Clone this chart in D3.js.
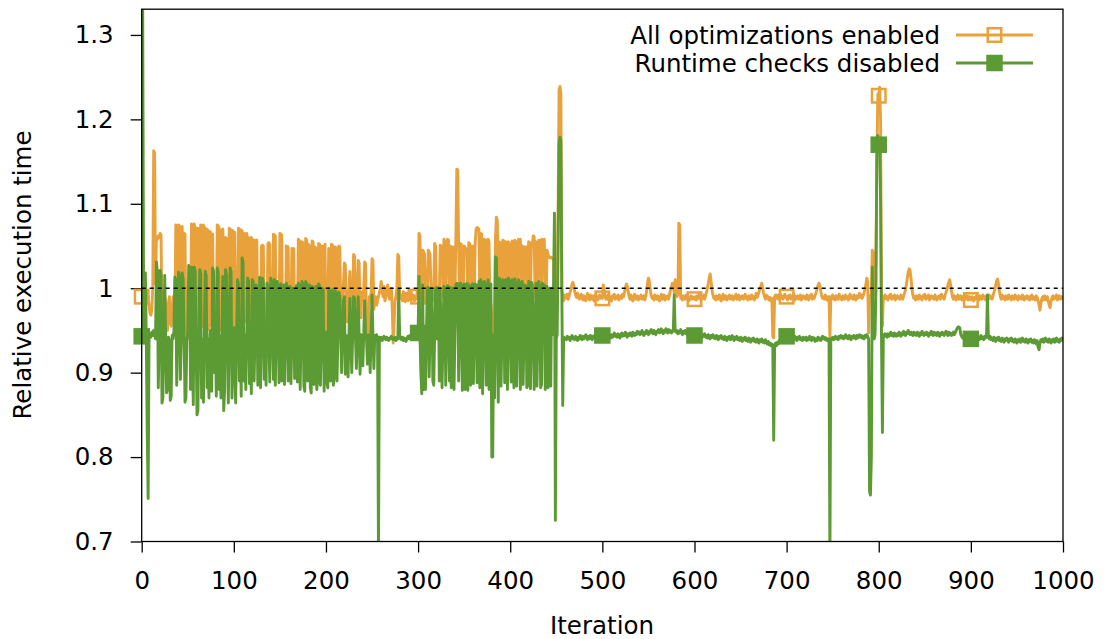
<!DOCTYPE html>
<html>
<head>
<meta charset="utf-8">
<script src="https://cdnjs.cloudflare.com/ajax/libs/d3/7.8.5/d3.min.js"></script>
<style>
   body { margin: 0; background: #fff; }
   svg { display: block; font-family: "DejaVu Sans", sans-serif; }
</style>
</head>
<body>
<script>
// relative execution time x 1000, one value per iteration

// all optimizations enabled, iterations 0-459
var optEarly = [
   990,1000,998,995,1000,997,993,990,980,970,
   968,975,1000,1163,1160,1005,1060,1058,1062,1060,
   1065,1063,955,950,960,990,985,955,950,980,
   990,960,955,975,990,985,970,1075,1072,960,
   1075,1074,955,1070,1073,950,1065,1064,950,945,
   940,945,955,960,1076,1074,955,1076,1072,1071,
   950,1071,1070,960,1075,1073,955,1075,1072,1071,
   960,1070,1068,950,1067,1066,955,1064,960,950,
   955,960,1075,1074,1072,950,955,1069,1070,950,
   960,1060,1059,950,955,1071,1070,1069,955,1068,
   955,1066,950,960,955,1071,1070,955,1069,1068,
   950,1065,1064,960,1065,950,1060,1059,955,1060,
   1058,950,955,1057,1056,1057,950,960,955,950,
   1050,1051,1050,955,960,950,955,1053,1054,1052,
   950,955,960,1064,1063,1062,950,955,960,950,
   1065,1064,1063,955,960,950,955,1050,1048,1049,
   950,955,960,1047,1046,1047,955,960,950,955,
   1058,1057,955,950,1055,1053,960,955,1059,1057,
   950,1052,1050,955,960,1056,1055,950,1049,1048,
   955,960,1053,1052,950,955,1050,1049,955,1052,
   950,950,960,1047,1046,955,1052,1051,950,955,
   1049,1048,960,955,1050,1049,980,970,990,1005,
   1030,1028,975,960,985,1000,1020,970,950,990,
   1040,1038,980,960,990,1033,1030,975,965,995,
   985,1000,1031,1029,950,932,935,990,985,995,
   1035,1033,975,985,990,980,985,990,995,1000,
   1008,995,990,1002,985,990,998,1004,992,987,
   995,1000,975,935,960,985,990,1000,1040,1038,
   995,988,992,985,996,990,984,994,989,985,
   998,990,986,993,988,992,985,990,987,996,
   990,1065,1062,990,985,1045,1043,1040,990,985,
   988,1045,1043,1040,1000,990,985,1000,1053,1050,
   986,985,987,990,1051,1050,1049,990,1058,1055,
   988,1052,1058,1057,990,1050,1049,985,1049,1047,
   990,1060,1141,1140,1050,990,1053,1052,988,985,
   1050,1048,1047,1046,990,1054,1053,986,990,1050,
   1049,985,1055,1070,1072,1071,1070,990,1065,1064,
   988,985,1058,1057,990,1056,1058,1055,985,980,
   941,945,960,990,1060,1084,1080,990,1055,1054,
   990,986,1057,1056,985,1055,1054,990,1055,1053,
   960,985,1056,1055,990,1057,1055,985,990,1058,
   1057,1058,990,1050,1049,985,1049,1048,1049,990,
   1055,1054,988,1053,1052,1062,1061,990,1055,1054,
   985,1057,1056,1057,990,1058,1057,1058,988,985,
   1045,1040,1037,1036,1037,1036,1035,1036,990,985,
   980,1000,1100,1235,1239,1230,1000,990,985,992
];

// all optimizations enabled, iterations 460-1000
var optLate = [
   990,988,993,987,991,995,999,1004,1007,1003,996,992,989,994,991,987,990,993,988,986,
   991,989,985,990,994,988,986,992,989,987,991,985,988,993,990,986,989,992,988,990,
   988,1004,997,990,987,989,992,986,990,988,985,991,989,993,987,990,988,992,986,989,
   991,988,993,990,995,1000,1005,1003,996,990,987,992,988,985,990,993,987,989,991,986,
   990,988,992,987,989,991,986,990,996,1006,1012,1008,999,991,988,990,986,992,989,987,
   991,988,985,990,993,987,989,992,986,990,988,991,987,993,998,1002,1006,1000,995,1010,
   995,990,992,1077,1075,988,990,986,991,989,987,992,988,990,985,989,991,987,990,988,
   987,990,986,991,988,993,989,986,990,988,992,987,991,995,1000,1006,1012,1017,1008,998,
   992,988,990,986,991,989,987,992,988,985,990,993,987,989,991,986,990,988,992,987,
   989,991,986,990,988,993,987,989,992,986,990,988,991,987,989,993,988,990,986,991,
   989,987,992,988,990,986,991,994,989,992,996,999,1002,1006,1000,994,990,987,992,988,
   990,986,989,985,988,943,941,990,992,988,992,987,990,994,988,991,987,990,993,989,
   990,986,991,988,992,987,990,989,993,986,990,988,991,987,990,992,986,989,991,988,
   990,987,992,988,986,991,989,993,987,990,988,992,995,999,1003,1006,1004,997,991,988,
   990,987,992,989,986,990,990,942,990,988,992,987,990,986,991,989,987,993,988,990,
   986,991,989,987,992,988,990,986,991,993,988,990,987,992,989,986,991,988,990,994,
   989,992,988,991,994,999,1004,1012,1008,947,990,992,990,1045,1042,995,992,1050,1150,1230,
   1228,1238,1200,1000,955,990,987,992,988,990,986,991,989,993,987,990,988,992,986,989,
   991,988,990,987,992,989,987,991,994,998,1004,1012,1019,1023,1021,1012,1000,992,988,990,
   986,991,989,987,992,988,990,986,991,989,993,987,990,988,992,986,989,991,988,990,
   987,992,989,986,990,988,991,987,993,989,990,987,992,995,999,1003,1007,1010,1004,996,
   990,987,991,988,986,990,992,987,989,991,986,990,988,992,987,989,991,986,990,988,
   986,990,988,985,989,987,991,988,990,986,991,989,987,992,988,990,986,991,989,987,
   992,988,990,987,991,995,999,1004,1009,1011,1005,996,990,987,992,988,990,986,991,989,
   987,992,988,990,986,991,989,987,992,988,990,986,991,988,990,987,992,989,986,990,
   988,991,987,990,986,989,992,987,990,988,986,991,989,985,980,974,982,988,990,986,
   991,988,986,990,985,980,977,984,989,991,987,990,988,992,986,989,991,987,990,988,
   990
];

// runtime checks disabled, iterations 0-459
var rtcEarly = [
   943,1360,1010,945,1018,940,830,751,944,946,
   942,948,944,950,945,940,1031,1020,882,940,
   1021,1015,864,870,945,1015,940,876,880,942,
   938,867,872,944,940,950,1013,1010,885,945,
   1019,1015,892,940,1018,1010,945,865,870,940,
   948,1027,1020,880,1025,940,862,1025,1020,945,
   850,855,940,1022,1018,870,940,865,945,1020,
   1015,882,940,870,946,950,878,1024,1020,900,
   940,872,1024,1018,880,944,870,940,1014,855,
   880,1022,1016,942,864,948,1024,1019,870,940,
   945,900,864,944,1010,1005,890,940,872,1036,
   1030,890,945,880,944,1012,1009,887,940,875,
   1010,1008,890,945,1004,1000,885,940,1013,882,
   945,1012,1008,892,940,885,1006,1004,945,889,
   1012,1009,940,892,1010,885,945,1008,1003,888,
   940,1005,890,945,1004,886,942,1006,1001,890,
   945,1002,887,940,1000,998,893,944,1003,889,
   1006,1004,880,945,1008,1005,884,878,1008,1006,
   890,940,1004,882,876,1002,1000,886,945,1002,
   880,890,1005,1003,885,940,1000,998,878,945,
   940,888,882,1000,996,890,940,998,885,895,
   997,995,890,945,995,990,945,900,946,985,
   990,898,944,940,895,946,988,942,900,945,
   990,988,943,905,947,990,944,898,945,942,
   908,946,985,944,940,910,945,943,900,946,
   992,945,905,944,942,945,940,680,942,940,
   942,938,940,943,941,939,942,940,938,941,
   940,943,941,939,940,942,938,941,940,998,
   944,940,939,942,938,941,940,937,941,943,
   940,944,941,945,942,946,943,948,945,947,
   947,1014,945,900,875,1004,880,945,880,943,
   1000,1001,895,945,1000,998,890,885,945,1000,
   940,1001,999,890,1000,945,882,940,1002,999,
   885,945,1003,1000,890,1001,882,945,1000,880,
   945,1004,1006,1005,890,945,1006,1004,879,883,
   1005,880,945,1006,879,1004,1003,885,945,1005,
   887,945,1005,1004,888,945,1008,882,1010,1006,
   875,945,1008,1005,885,945,1010,880,945,1005,
   800,800,945,870,1037,1036,945,865,1012,1010,
   884,945,1010,1008,888,1010,945,880,1012,1008,
   945,889,1010,945,882,1011,1005,884,945,1010,
   1006,880,945,1008,886,945,1004,1002,882,945,
   1008,885,881,1007,1004,945,880,945,1006,884,
   945,1008,1003,882,886,1006,945,1004,880,945,
   1002,882,945,1000,884,1000,945,1000,1089,725,
   940,945,1050,1170,1179,1175,1000,861,942,941
];

// runtime checks disabled, iterations 460-1000
var rtcLate = [
   941,939,943,940,942,938,941,944,940,942,939,943,941,938,942,940,944,941,939,943,
   940,942,945,941,939,943,940,944,942,939,943,941,945,942,940,944,941,943,946,942,
   944,941,945,943,940,944,942,946,943,941,945,942,944,947,943,945,942,946,944,941,
   945,947,943,946,944,948,945,942,946,944,947,945,943,948,946,944,947,945,949,946,
   948,945,947,950,946,944,948,946,950,947,945,949,947,951,948,946,950,947,945,949,
   948,951,947,949,952,948,946,950,948,952,949,947,951,948,950,947,949,949,992,950,
   948,950,946,949,947,951,948,945,949,947,950,946,948,944,947,945,949,946,943,947,
   944,946,943,947,945,942,946,944,941,945,943,946,942,944,941,945,943,940,944,942,
   945,941,943,940,944,942,939,943,941,944,940,942,939,943,941,938,942,940,943,939,
   941,944,940,938,942,940,943,939,941,938,942,940,937,941,939,942,938,940,937,941,
   939,936,940,938,941,937,939,936,940,938,935,939,937,940,936,938,935,939,936,934,
   937,933,935,932,934,931,820,933,935,932,936,934,938,936,940,938,942,940,943,941,
   943,940,944,941,939,943,940,942,939,943,941,938,942,940,943,939,941,938,942,940,
   939,942,938,941,939,943,940,938,942,939,941,937,940,938,942,939,941,938,940,943,
   940,942,939,941,938,940,940,680,940,940,942,939,941,943,940,942,939,943,941,944,
   941,943,940,942,945,941,943,940,944,942,939,943,941,944,942,940,944,941,943,945,
   942,944,941,943,940,944,942,945,943,940,760,755,800,1025,945,940,945,1000,1170,1181,
   1170,1175,1100,940,829,945,943,946,944,942,946,943,945,948,944,946,943,947,945,943,
   946,944,948,945,943,947,945,949,946,944,948,946,950,947,945,948,946,944,948,945,
   947,944,948,946,943,947,945,949,946,944,947,945,948,946,943,947,945,949,946,944,
   948,945,947,944,948,946,943,947,945,948,946,944,947,949,946,944,948,945,947,944,
   946,948,945,947,950,952,954,954,953,945,943,941,944,940,942,939,943,941,938,942,
   940,942,939,943,940,938,942,940,943,939,941,944,940,942,939,943,941,944,992,942,
   940,943,939,941,938,942,940,937,941,939,942,938,940,937,941,939,936,940,938,941,
   939,936,940,938,941,937,939,936,940,938,935,939,937,940,936,938,941,937,939,936,
   940,938,935,939,937,940,936,938,935,939,937,934,938,930,927,935,939,937,940,936,
   938,941,937,939,936,940,938,935,939,937,940,936,938,941,937,939,936,940,938,941,
   939
];

var seriesNames = ["All optimizations enabled", "Runtime checks disabled"];
var seriesColors = ["#e8a13b", "#5c9a34"];
var xTicks = [0, 100, 200, 300, 400, 500, 600, 700, 800, 900, 1000];
var yTicks = [0.7, 0.8, 0.9, 1, 1.1, 1.2, 1.3];
var markerEvery = 100;

function drawChart() {
   var width = 1109;
   var height = 639;
   var left = 141.7, right = 1063, top = 9.2, bottom = 541.5;
   var fontSize = 24.5;

   var svg = d3.select("body")
               .append("svg")
                  .attr("width", width)
                  .attr("height", height);

   var x = d3.scaleLinear()
            .domain([0, 1000])
            .range([left, right]);

   var y = d3.scaleLinear()
            .domain([0.7, 1.3305])
            .range([bottom, top]);

   function toPoints(values) {
      return values.map(function(v, i) { return { i: i, v: v / 1000 }; });
   }

   var series = [
      toPoints(optEarly.concat(optLate)),
      toPoints(rtcEarly.concat(rtcLate))
   ];

   svg.append("clipPath")
         .attr("id", "plotclip")
      .append("rect")
         .attr("x", left)
         .attr("y", top)
         .attr("width", right - left)
         .attr("height", bottom - top);

   //x axis, ticks pointing out
   var xAxis = svg.append("g")
      .attr("transform", "translate(0," + bottom + ")")
      .call(d3.axisBottom(x)
         .tickValues(xTicks)
         .tickSize(11)
         .tickSizeOuter(0)
         .tickPadding(19)
         .tickFormat(d3.format("d")));
   xAxis.select(".domain").remove();

   //y axis
   var yAxis = svg.append("g")
      .attr("transform", "translate(" + left + ",0)")
      .call(d3.axisLeft(y)
         .tickValues(yTicks)
         .tickSize(11)
         .tickSizeOuter(0)
         .tickPadding(17)
         .tickFormat(function(d) { return String(+d.toFixed(1)); }));
   yAxis.select(".domain").remove();

   svg.selectAll(".tick line")
      .attr("stroke", "#000")
      .attr("stroke-width", 1.3);
   svg.selectAll(".tick text")
      .attr("fill", "#000")
      .style("font-family", "DejaVu Sans")
      .style("font-size", fontSize + "px");

   var line = d3.line()
      .x(function(d) { return x(d.i); })
      .y(function(d) { return y(d.v); });

   var plot = svg.append("g");

   series.forEach(function(data, k) {
      plot.append("path")
         .datum(data)
         .attr("clip-path", "url(#plotclip)")
         .attr("fill", "none")
         .attr("stroke", seriesColors[k])
         .attr("stroke-width", 2.9)
         .attr("stroke-linejoin", "round")
         .attr("d", line);

      var marks = data.filter(function(d) { return d.i % markerEvery === 0 && d.i < 1000; });
      drawMarkers(plot, marks, k);
   });

   function drawMarkers(g, marks, k) {
      var filled = k === 1;
      var s = filled ? 15 : 13.5;
      g.selectAll(".mark" + k)
         .data(marks)
         .enter().append("rect")
            .attr("class", "mark" + k)
            .attr("x", function(d) { return x(d.i) - s / 2; })
            .attr("y", function(d) { return y(d.v) - s / 2; })
            .attr("width", s)
            .attr("height", s)
            .attr("fill", filled ? seriesColors[k] : "none")
            .attr("stroke", seriesColors[k])
            .attr("stroke-width", filled ? 1.5 : 2.5);
   }

   //reference line at 1
   svg.append("line")
      .attr("x1", left)
      .attr("x2", right)
      .attr("y1", y(1))
      .attr("y2", y(1))
      .attr("stroke", "#000")
      .attr("stroke-width", 1.5)
      .attr("stroke-dasharray", "4,4");

   //border
   svg.append("rect")
      .attr("x", left)
      .attr("y", top)
      .attr("width", right - left)
      .attr("height", bottom - top)
      .attr("fill", "none")
      .attr("stroke", "#000")
      .attr("stroke-width", 1.3);

   //legend
   var legendY = [35, 63];
   seriesNames.forEach(function(name, k) {
      var lg = svg.append("g");
      lg.append("text")
         .attr("x", 940)
         .attr("y", legendY[k])
         .attr("dy", "0.36em")
         .attr("text-anchor", "end")
         .style("font-size", fontSize + "px")
         .text(name);
      lg.append("line")
         .attr("x1", 956)
         .attr("x2", 1033)
         .attr("y1", legendY[k])
         .attr("y2", legendY[k])
         .attr("stroke", seriesColors[k])
         .attr("stroke-width", 2.9);
      drawMarkers(lg, [{ i: (994.5 - left) / (right - left) * 1000, v: y.invert(legendY[k]) }], k);
   });

   //axis titles
   svg.append("text")
      .attr("x", 602)
      .attr("y", 625)
      .attr("dy", "0.36em")
      .attr("text-anchor", "middle")
      .style("font-size", fontSize + "px")
      .text("Iteration");

   svg.append("text")
      .attr("transform", "translate(22,275) rotate(-90)")
      .attr("dy", "0.36em")
      .attr("text-anchor", "middle")
      .style("font-size", fontSize + "px")
      .text("Relative execution time");
}

drawChart();
</script>
</body>
</html>
